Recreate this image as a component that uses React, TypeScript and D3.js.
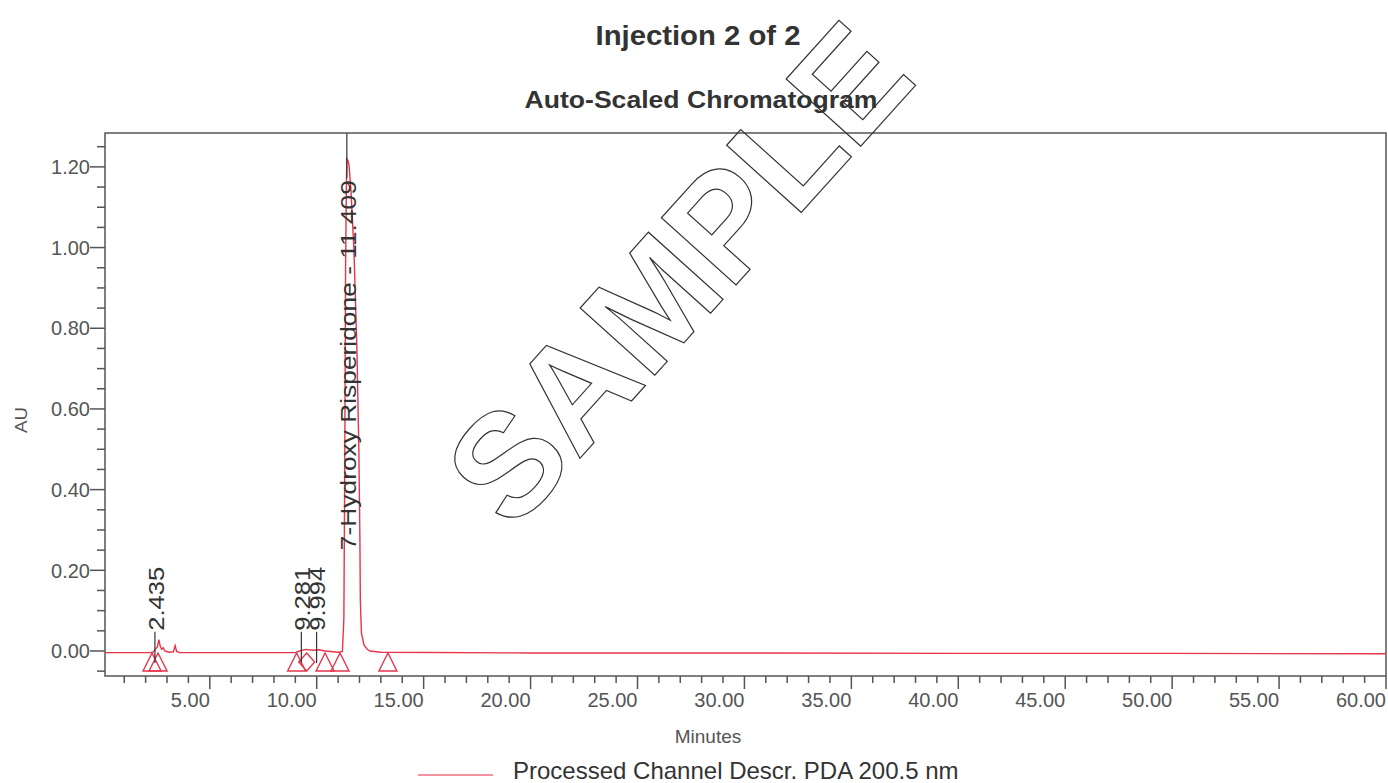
import React from 'react';
import * as d3 from 'd3';

const W = 1388;
const H = 783;
const margin = { top: 133, right: 2, bottom: 107, left: 105 };

// chromatogram trace (minutes, AU)
const timeMin = [
  0.1, 2.2, 2.35, 2.45, 2.55, 2.62, 2.68, 2.75, 2.82, 2.9, 3.1, 3.3, 3.38, 3.45, 3.6,
  5, 8, 9.0, 9.2, 9.5, 9.8, 10.1, 10.4, 11.0, 11.2, 11.27, 11.31, 11.35, 11.39, 11.41,
  11.46, 11.51, 11.6, 11.74, 11.88, 11.97, 12.02, 12.04, 12.09, 12.21, 12.35, 12.49,
  13.0, 20, 30, 40, 50, 60,
];
const absorbanceAU = [
  -0.004, -0.004, -0.003, 0.004, 0.01, 0.028, 0.012, 0.004, 0.008, 0.0, -0.003, -0.002, 0.013, -0.001, -0.004,
  -0.004, -0.004, -0.004, 0.0, 0.004, 0.002, 0.003, 0.0, -0.003, -0.001, 0.08, 0.45, 0.95, 1.17, 1.22,
  1.215, 1.205, 1.143, 0.994, 0.746, 0.498, 0.275, 0.126, 0.045, 0.015, 0.005, 0.0,
  -0.003, -0.005, -0.005, -0.006, -0.006, -0.007,
];

const yTickValues = [0, 0.2, 0.4, 0.6, 0.8, 1.0, 1.2];
const xTickValues = [5, 10, 15, 20, 25, 30, 35, 40, 45, 50, 55, 60];

const peakTimes = [2.435, 9.281, 9.994, 11.409];
const peakNames = ['', '', '', '7-Hydroxy Risperidone'];
const baselineMarkerTimes = [2.3, 2.58, 9.06, 10.39, 11.09, 13.33];
const dropMarkerTimes = [9.53];

const RED = '#e8344a';
const AXIS = '#555';
const FONT = '"Liberation Sans", Arial, sans-serif';

export default function App() {
  const x = d3.scaleLinear().domain([0.1, 60]).range([margin.left, W - margin.right]);
  const y = d3.scaleLinear().domain([-0.062, 1.284]).range([H - margin.bottom, margin.top]);

  const pts: [number, number][] = timeMin.map((t, i) => [t, absorbanceAU[i]]);
  const line = d3.line<[number, number]>().x(d => x(d[0])).y(d => y(d[1]));

  const yMinor = d3.range(-1, 26).map(i => i * 0.05);
  const xMinor = d3.range(1, 61);
  const x0 = margin.left;
  const yBottom = H - margin.bottom;

  const tri = (cx: number, top: number) =>
    `M${cx},${top} L${cx + 9},${top + 18} L${cx - 9},${top + 18} Z`;
  const diamond = (cx: number, top: number) =>
    `M${cx},${top} L${cx + 8},${top + 9} L${cx},${top + 18} L${cx - 8},${top + 9} Z`;

  return (
    <svg width={W} height={H} style={{ position: 'absolute', left: 0, top: 0, background: '#fff' }}
      fontFamily={FONT}>
      <rect width={W} height={H} fill="#fff" />

      {/* titles */}
      <text x={698} y={45} textAnchor="middle" fontSize={27} fontWeight="bold" fill="#333"
        textLength={205} lengthAdjust="spacingAndGlyphs">Injection 2 of 2</text>
      <text x={701} y={108} textAnchor="middle" fontSize={24} fontWeight="bold" fill="#333"
        textLength={353} lengthAdjust="spacingAndGlyphs">Auto-Scaled Chromatogram</text>

      {/* frame */}
      <rect x={margin.left} y={margin.top} width={W - margin.left - margin.right}
        height={H - margin.top - margin.bottom} fill="none" stroke={AXIS} strokeWidth={1.5} />

      {/* y axis */}
      {yMinor.map((v, i) => {
        const major = i % 4 === 1;
        return (
          <line key={'ym' + i} x1={x0 - (major ? 15 : 8)} x2={x0} y1={y(v)} y2={y(v)}
            stroke={AXIS} strokeWidth={1.5} />
        );
      })}
      {yTickValues.map(v => (
        <text key={'yl' + v} x={x0 - 15} y={y(v)} dy="0.36em" textAnchor="end" fontSize={20}
          fill={AXIS}>{v.toFixed(2)}</text>
      ))}
      <text transform={`translate(21,420) rotate(-90)`} dy="0.35em" textAnchor="middle" fontSize={17}
        fill={AXIS} textLength={26} lengthAdjust="spacingAndGlyphs">AU</text>

      {/* x axis */}
      {xMinor.map(t => {
        const major = t % 5 === 0;
        return (
          <line key={'xm' + t} x1={x(t)} x2={x(t)} y1={yBottom} y2={yBottom + (major ? 13 : 7)}
            stroke={AXIS} strokeWidth={1.5} />
        );
      })}
      {xTickValues.map(t => (
        <text key={'xl' + t} x={x(t)} y={707} textAnchor="end" fontSize={20} fill={AXIS}>
          {t.toFixed(2)}
        </text>
      ))}
      <text x={708} y={743} textAnchor="middle" fontSize={19} fill={AXIS}>Minutes</text>

      {/* trace */}
      <path d={line(pts) ?? ''} fill="none" stroke={RED} strokeWidth={1.4} />

      {/* integration markers */}
      {baselineMarkerTimes.map((t, i) => (
        <path key={'tri' + i} d={tri(x(t), y(-0.005))} fill="none" stroke={RED} strokeWidth={1.4} />
      ))}
      {dropMarkerTimes.map((t, i) => (
        <path key={'dia' + i} d={diamond(x(t), y(-0.005))} fill="none" stroke={RED} strokeWidth={1.4} />
      ))}

      {/* peak labels */}
      {peakTimes.map((t, i) => {
        const px = x(t);
        const label = peakNames[i] ? `${peakNames[i]} - ${t.toFixed(3)}` : t.toFixed(3);
        const isMain = !!peakNames[i];
        const start = isMain ? y(0.25) : y(0.05);
        const len = isMain ? 370 : 64;
        return (
          <g key={'pk' + i}>
            {isMain ? (
              <line x1={px} x2={px} y1={margin.top} y2={start - len - 2} stroke="#333" strokeWidth={1.2} />
            ) : (
              <line x1={px} x2={px} y1={start + 1} y2={y(-0.03)} stroke="#333" strokeWidth={1.2} />
            )}
            <text transform={`translate(${px + 1},${start}) rotate(-90)`} dy="0.35em" fontSize={22}
              fill="#333" textLength={len} lengthAdjust="spacingAndGlyphs">{label}</text>
          </g>
        );
      })}

      {/* watermark */}
      <text transform="translate(678,273) rotate(-48)" dy="0.35em" textAnchor="middle" fontSize={146}
        fontWeight="bold" fill="none" stroke="#333" strokeWidth={1.2}>SAMPLE</text>

      {/* legend */}
      <line x1={418} x2={493} y1={775} y2={775} stroke={RED} strokeOpacity={0.7} strokeWidth={1.5} />
      <text x={513} y={779} fontSize={24} fill="#333">Processed Channel Descr. PDA 200.5 nm</text>
    </svg>
  );
}
